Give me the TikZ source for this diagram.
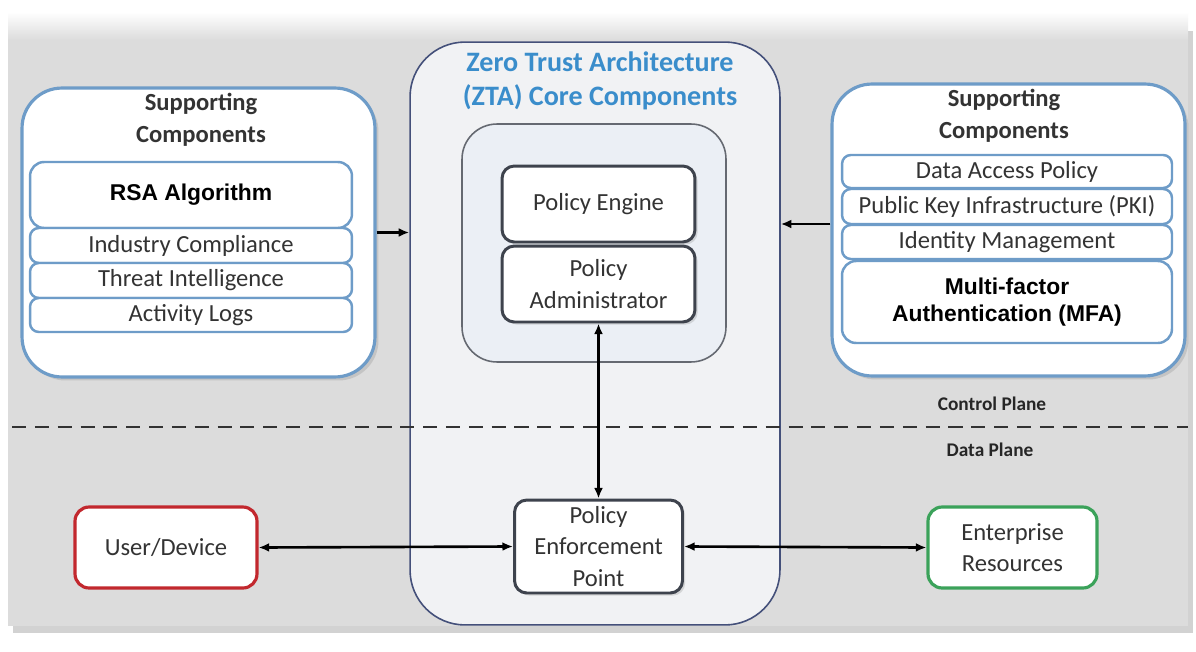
\documentclass[tikz,border=0pt]{standalone}
\usepackage{fontspec}
\setmainfont{Carlito}
\newfontfamily\arialfont{Liberation Sans}
\usetikzlibrary{arrows.meta,shadows}
\definecolor{panelgray}{HTML}{DCDCDC}
\definecolor{supblue}{HTML}{6E9CC8}
\definecolor{titleblue}{HTML}{3A8DCB}
\definecolor{ztaline}{HTML}{44507A}
\definecolor{ztafill}{HTML}{F1F2F4}
\definecolor{corefill}{HTML}{EBEFF5}
\definecolor{boxdark}{HTML}{3E434D}
\definecolor{userred}{HTML}{C2282E}
\definecolor{resgreen}{HTML}{3BA25A}
\definecolor{txtgray}{HTML}{333333}
\begin{document}
\begin{tikzpicture}[x=0.02cm,y=-0.02cm,
	font=\fontsize{14}{18}\selectfont, text=txtgray,
	supbox/.style={draw=supblue, line width=1.8pt, fill=white, rounded corners=0.8cm,
		drop shadow={opacity=0.25, shadow xshift=2pt, shadow yshift=-2pt}},
	suptitle/.style={align=center, font=\fontsize{14}{18}\selectfont\bfseries},
	item/.style={draw=supblue, line width=1.4pt, fill=white, rounded corners=5pt, inner sep=0pt},
	bolditem/.style={item, rounded corners=8pt, align=center, text=black,
		font=\arialfont\fontsize{13}{15}\selectfont\bfseries},
	core/.style={draw=boxdark, line width=1.7pt, fill=white, rounded corners=7pt, align=center,
		drop shadow={opacity=0.25, shadow xshift=1.5pt, shadow yshift=-1.5pt}},
	plane/.style={font=\fontsize{11}{13}\selectfont\bfseries, text=black!85},
	arr/.style={{Latex[length=6pt,width=5pt]}-{Latex[length=6pt,width=5pt]}, line width=1.5pt, black},
	toarr/.style={-{Latex[length=6pt,width=5pt]}, line width=1.5pt, black}]
	\useasboundingbox (0,0) rectangle (1196,652);
	% background
	\fill[white] (0,0) rectangle (1196,652);
	\fill[panelgray, drop shadow={opacity=0.35, shadow xshift=3pt, shadow yshift=-4pt}] (8,24) rectangle (1188,626);
	\shade[top color=white, bottom color=panelgray] (8,12) rectangle (1188,40);

	% ZTA core
	\node[draw=ztaline, line width=0.9pt, fill=ztafill, rounded corners=1.1cm,
		minimum width=7.4cm, minimum height=11.66cm] (zta) at (595,333.5) {};
	\node[align=center, text=titleblue, font=\fontsize{16}{19.5}\selectfont\bfseries] (ztatitle) at (600,81)
		{Zero Trust Architecture\\(ZTA) Core Components};
	\node[draw=boxdark!80, line width=0.9pt, fill=corefill, rounded corners=0.7cm,
		minimum width=5.28cm, minimum height=4.76cm] (inner) at (594,243) {};
	\node[core, minimum width=3.86cm, minimum height=1.52cm] (pe) at (598.5,204) {Policy Engine};
	\node[core, minimum width=3.86cm, minimum height=1.52cm] (pa) at (598.5,284) {Policy\\Administrator};
	\node[core, minimum width=3.36cm, minimum height=1.86cm] (pep) at (598.5,546.5) {Policy\\Enforcement\\Point};

	% supporting components, left
	\node[supbox, minimum width=7.06cm, minimum height=5.78cm] (lsup) at (198.5,232.5) {};
	\node[suptitle] (ltitle) at (201,120) {Supporting\\Components};
	\node[bolditem, minimum width=6.44cm, minimum height=1.32cm] (rsa) at (191,195) {RSA Algorithm};
	\node[item, minimum width=6.44cm, minimum height=0.7cm] (indus) at (191,245.5) {Industry Compliance};
	\node[item, minimum width=6.44cm, minimum height=0.7cm] (threat) at (191,280.5) {Threat Intelligence};
	\node[item, minimum width=6.44cm, minimum height=0.68cm] (logs) at (191,315) {Activity Logs};

	% supporting components, right
	\node[supbox, minimum width=7.06cm, minimum height=5.84cm] (rsup) at (1008.5,230) {};
	\node[suptitle] (rtitle) at (1004,116) {Supporting\\Components};
	\node[item, minimum width=6.6cm, minimum height=0.66cm] (dap) at (1007,171.5) {Data Access Policy};
	\node[item, minimum width=6.6cm, minimum height=0.7cm] (pki) at (1007,206.5) {Public Key Infrastructure (PKI)};
	\node[item, minimum width=6.6cm, minimum height=0.68cm] (idm) at (1007,242) {Identity Management};
	\node[bolditem, minimum width=6.6cm, minimum height=1.64cm] (mfa) at (1007,302)
		{Multi-factor\\Authentication (MFA)};

	% planes
	\draw[line width=1.6pt, dash pattern=on 8pt off 5pt, black!80] (12,427) -- (1188,427);
	\node[plane] (ctrl) at (992,404) {Control Plane};
	\node[plane] (data) at (990,450) {Data Plane};

	% data plane endpoints
	\node[draw=userred, line width=1.8pt, fill=white, rounded corners=8pt,
		minimum width=3.64cm, minimum height=1.62cm] (user) at (166,547.5) {User/Device};
	\node[draw=resgreen, line width=1.8pt, fill=white, rounded corners=8pt, align=center,
		minimum width=3.38cm, minimum height=1.62cm] (res) at (1012.5,547.5) {Enterprise\\Resources};

	% connectors
	\draw[toarr] (lsup.east) -- (lsup.east -| zta.west);
	\draw[toarr] ([yshift=0.12cm]rsup.west) -- ([yshift=0.12cm]rsup.west -| zta.east);
	\draw[arr] (pa.south) -- (pep.north);
	\draw[arr] (user.east) -- (pep.west);
	\draw[arr] (pep.east) -- (res.west);
\end{tikzpicture}
\end{document}
